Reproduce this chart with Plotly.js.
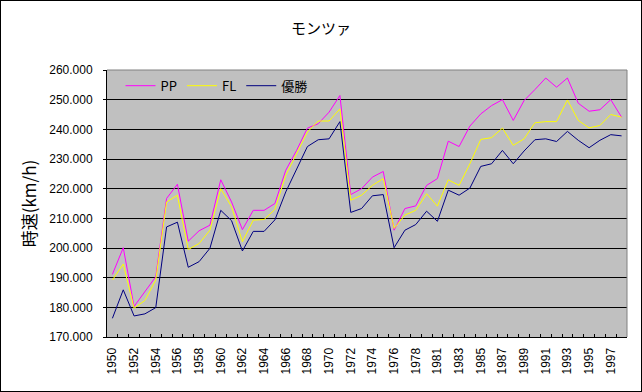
<!DOCTYPE html>
<html>
<head>
<meta charset="utf-8">
<script src="https://cdn.plot.ly/plotly-3.0.1.min.js"></script>
<style>
  html, body { margin: 0; padding: 0; background: #ffffff; }
  #chart { position: absolute; left: 0; top: 0; width: 640px; height: 390px; border: 1px solid #000000; }
</style>
</head>
<body>
<div id="chart"></div>
<script>
// Categories: 1950-1979, 1981-1998 (no Monza race in 1980)
const years = [
  "1950","1951","1952","1953","1954","1955","1956","1957","1958","1959",
  "1960","1961","1962","1963","1964","1965","1966","1967","1968","1969",
  "1970","1971","1972","1973","1974","1975","1976","1977","1978","1979",
  "1981","1982","1983","1984","1985","1986","1987","1988","1989","1990",
  "1991","1992","1993","1994","1995","1996","1997","1998"
];

const ppSpeed = [
  191.1, 200.1, 180.3, 185.3, 190.3, 216.7, 221.5, 202.3, 205.8, 207.7,
  223.0, 215.5, 206.2, 212.7, 212.7, 215.0, 226.2, 232.9, 240.4, 241.9,
  245.8, 251.4, 218.0, 220.0, 223.9, 225.8, 206.0, 213.3, 214.2, 221.1,
  223.4, 236.0, 234.2, 241.1, 245.2, 248.0, 250.0, 243.0, 249.7, 253.4,
  257.3, 254.2, 257.3, 248.8, 246.1, 246.6, 250.0, 244.1
];

const flSpeed = [
  189.2, 194.6, 179.7, 182.3, 189.2, 215.5, 217.8, 199.5, 201.5, 206.0,
  220.0, 213.9, 202.1, 209.4, 209.6, 213.0, 224.5, 231.8, 239.1, 242.8,
  242.8, 246.9, 216.1, 217.8, 221.1, 223.4, 206.6, 211.1, 212.7, 218.3,
  214.1, 223.0, 221.1, 228.4, 236.6, 237.2, 240.4, 234.6, 236.8, 242.2,
  242.6, 242.6, 249.9, 243.0, 240.5, 241.3, 245.0, 244.1
];

const winSpeed = [
  176.3, 185.9, 177.1, 177.8, 179.9, 207.1, 208.7, 193.5, 195.4, 199.9,
  212.7, 209.2, 199.0, 205.6, 205.6, 209.5, 218.9, 226.7, 234.2, 236.5,
  236.8, 242.6, 212.0, 213.3, 217.6, 218.0, 200.1, 206.0, 207.9, 212.4,
  209.0, 219.5, 217.8, 220.2, 227.5, 228.4, 232.9, 228.4, 232.7, 236.5,
  236.8, 235.9, 239.3, 236.3, 233.8, 236.3, 238.2, 237.8
];

const seriesNames = ["PP", "FL", "優勝"];
const seriesColors = ["#FF00FF", "#FFFF00", "#000080"];
const tickLabels = years.map((y, i) => (i % 2 === 0 ? y : ""));

const traces = [ppSpeed, flSpeed, winSpeed].map((vals, k) => ({
  type: "scatter",
  mode: "lines",
  x: years,
  y: vals,
  name: seriesNames[k],
  line: { color: seriesColors[k], width: 1 }
}));

const layout = {
  width: 640,
  height: 390,
  margin: { l: 106, r: 14, t: 69, b: 54 },
  paper_bgcolor: "#ffffff",
  plot_bgcolor: "#C0C0C0",
  font: { family: "Liberation Sans, Arial, sans-serif", size: 12, color: "#000000" },
  title: {
    text: "モンツァ",
    font: { family: "Noto Sans CJK JP", size: 15, color: "#000000" },
    x: 0.5, xref: "container", xanchor: "center",
    y: 0.93, yref: "container", yanchor: "middle"
  },
  showlegend: true,
  legend: {
    orientation: "h",
    x: 0.026, xanchor: "left",
    y: 0.941, yanchor: "middle",
    bgcolor: "rgba(0,0,0,0)",
    borderwidth: 0,
    itemwidth: 30,
    font: { family: "Noto Sans CJK JP, Liberation Sans", size: 13, color: "#000000" }
  },
  xaxis: {
    type: "category",
    tickmode: "array",
    tickvals: years,
    ticktext: tickLabels,
    tickangle: -90,
    tickson: "boundaries",
    ticks: "inside",
    ticklen: 3,
    tickcolor: "#000000",
    showgrid: false,
    showline: true,
    linecolor: "#000000",
    linewidth: 1,
    zeroline: false,
    ticklabelstandoff: 5,
    tickfont: { family: "Liberation Sans, Arial", size: 12, color: "#000000" },
    range: [-0.5, years.length - 0.5]
  },
  yaxis: {
    range: [170, 260],
    dtick: 10,
    tick0: 170,
    tickformat: ".3f",
    ticks: "outside",
    ticklen: 3,
    tickcolor: "#000000",
    showgrid: true,
    gridcolor: "#000000",
    gridwidth: 1,
    showline: true,
    linecolor: "#000000",
    linewidth: 1,
    zeroline: false,
    ticklabelstandoff: 8,
    tickfont: { family: "Liberation Sans, Arial", size: 12, color: "#000000" },
    title: {
      text: "時速(km/h)",
      font: { family: "Noto Sans CJK JP", size: 17, color: "#000000" },
      standoff: 8
    },
    automargin: false
  },
  shapes: [
    { type: "line", xref: "paper", yref: "paper", x0: 0, x1: 1, y0: 1, y1: 1,
      line: { color: "#808080", width: 1 }, layer: "above" },
    { type: "line", xref: "paper", yref: "paper", x0: 1, x1: 1, y0: 0, y1: 1,
      line: { color: "#808080", width: 1 }, layer: "above" }
  ]
};

Plotly.newPlot("chart", traces, layout, { staticPlot: true, displayModeBar: false });
</script>
</body>
</html>
